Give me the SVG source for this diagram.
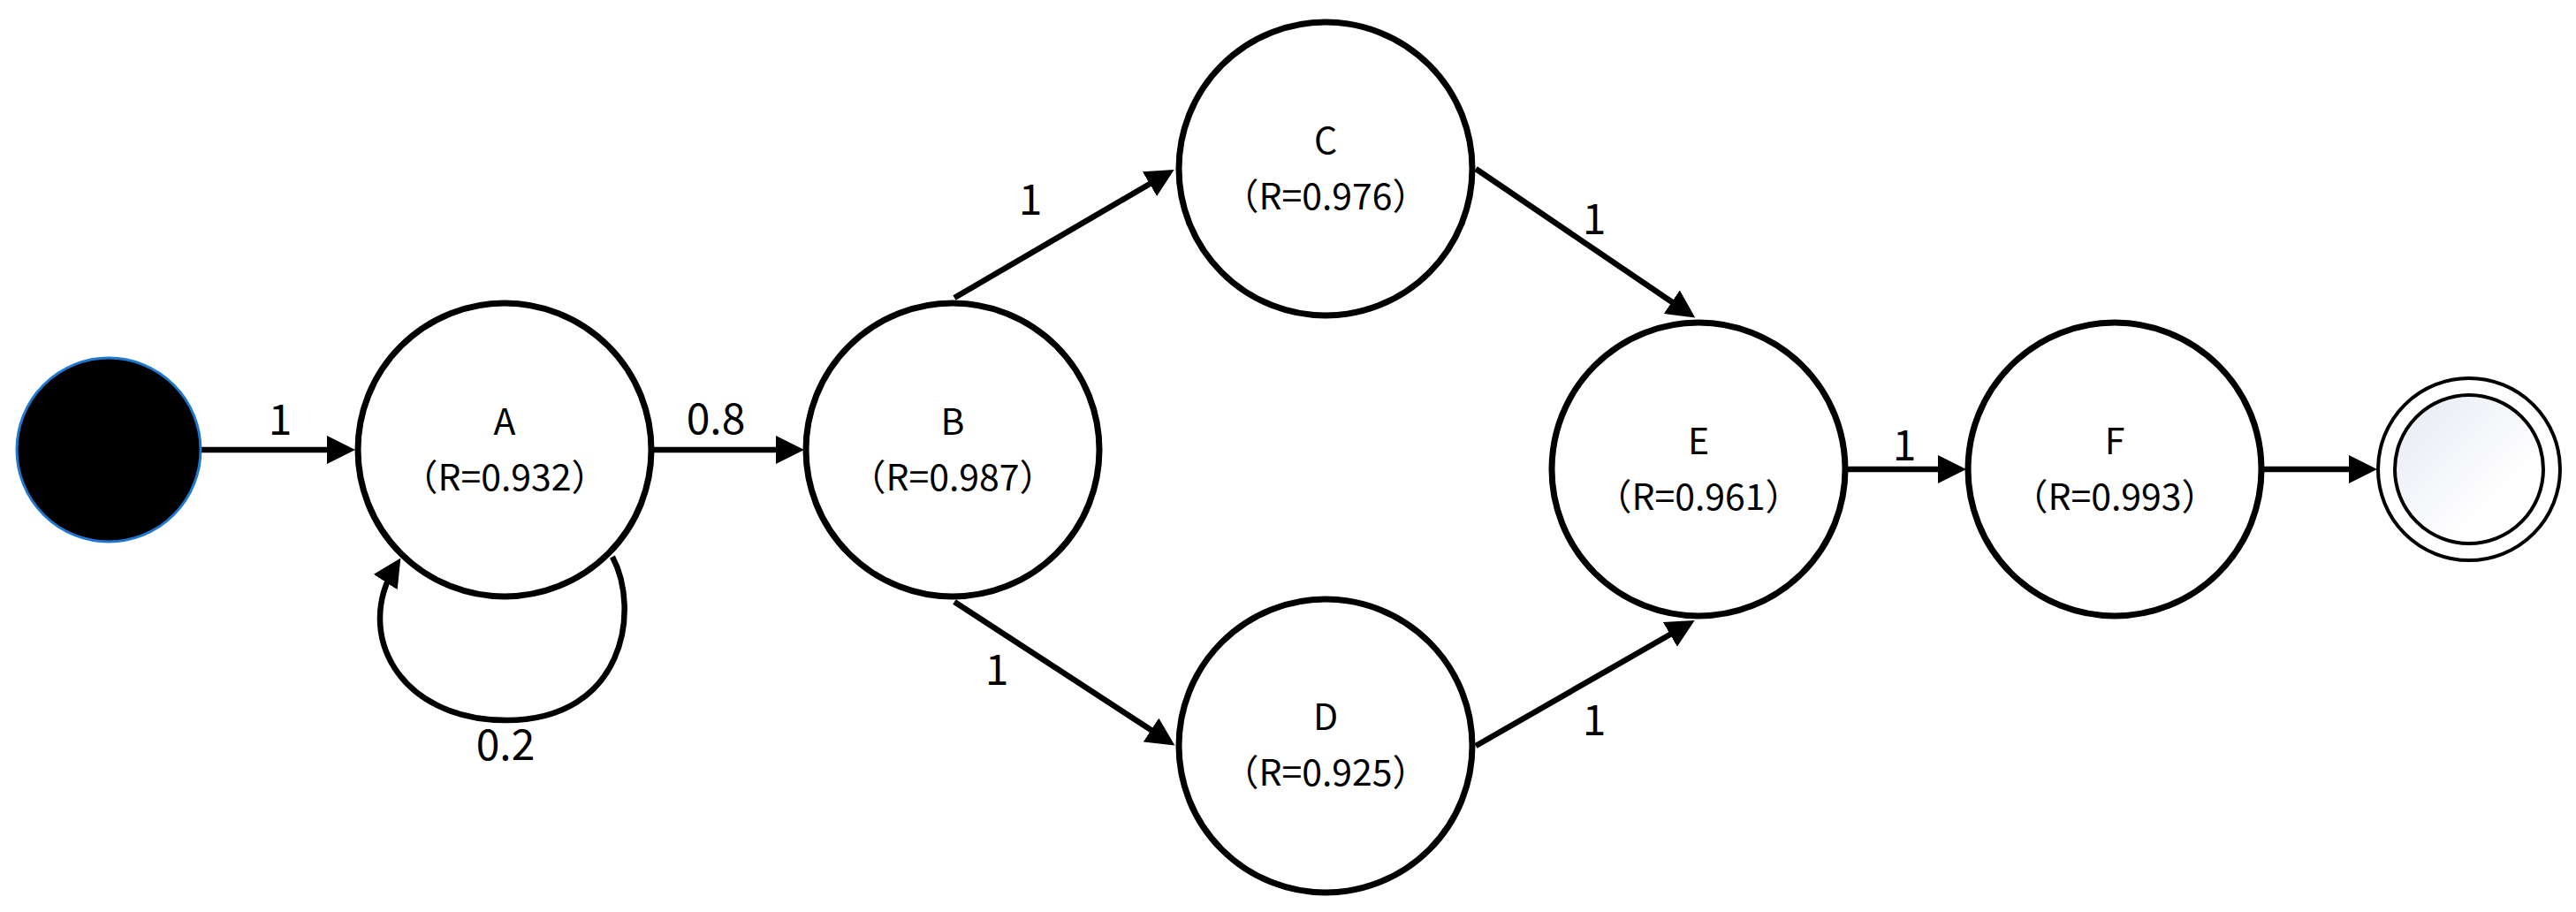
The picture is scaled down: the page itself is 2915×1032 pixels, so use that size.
<svg xmlns="http://www.w3.org/2000/svg" width="2915" height="1032" viewBox="0 0 2915 1032">
<defs>
<marker id="arr" markerUnits="userSpaceOnUse" markerWidth="34" markerHeight="34" refX="22" refY="16" orient="auto">
<path d="M0,0 L32,16 L0,32 z" fill="#000"/>
</marker>
<linearGradient id="endg" x1="0" y1="0" x2="1" y2="1">
<stop offset="0" stop-color="#e6e9f3"/>
<stop offset="0.7" stop-color="#ffffff"/>
</linearGradient>
<style>
.node{fill:#fff;stroke:#000;stroke-width:7}
.edge{fill:none;stroke:#000;stroke-width:6.5;marker-end:url(#arr)}
.nt{font-family:"Noto Sans CJK SC","Noto Sans",sans-serif;font-size:41px;fill:#000;text-anchor:middle}
.el{font-family:"Noto Sans CJK SC","Noto Sans",sans-serif;font-size:48px;fill:#000;text-anchor:middle}
</style>
</defs>
<rect width="2915" height="1032" fill="#fff"/>
<g id="connectors">
<path class="edge" d="M228 509 L392 509"/>
<path class="edge" d="M740 509 L900 509"/>
<path class="edge" d="M1080 337 L1320 197"/>
<path class="edge" d="M1080 681 L1321 838"/>
<path class="edge" d="M1670 191 L1910 354"/>
<path class="edge" d="M1670 844 L1909 707"/>
<path class="edge" d="M2090 531 L2215 531"/>
<path class="edge" d="M2561 531 L2680 531"/>
<path class="edge" d="M693 630 C725 690, 707 815, 573 815 C450 815, 400 715, 448 640"/>
<text class="el" x="317" y="492">1</text>
<text class="el" x="810" y="491">0.8</text>
<text class="el" x="572" y="860">0.2</text>
<text class="el" x="1166" y="243">1</text>
<text class="el" x="1128" y="775">1</text>
<text class="el" x="1804" y="265">1</text>
<text class="el" x="1804" y="832">1</text>
<text class="el" x="2155" y="521">1</text>
</g>
<g id="start"><circle cx="123" cy="509" r="104" fill="#000" stroke="#1f78d0" stroke-width="3"/></g>
<g id="A"><circle class="node" cx="571" cy="509" r="166"/><text class="nt" x="571" y="492">A</text><text class="nt" x="571" y="555">（R=0.932）</text></g>
<g id="B"><circle class="node" cx="1078" cy="509" r="166"/><text class="nt" x="1078" y="492">B</text><text class="nt" x="1078" y="555">（R=0.987）</text></g>
<g id="C"><circle class="node" cx="1500" cy="191" r="166"/><text class="nt" x="1500" y="174">C</text><text class="nt" x="1500" y="237">（R=0.976）</text></g>
<g id="D"><circle class="node" cx="1500" cy="844" r="166"/><text class="nt" x="1500" y="826">D</text><text class="nt" x="1500" y="889">（R=0.925）</text></g>
<g id="E"><circle class="node" cx="1922" cy="531" r="166"/><text class="nt" x="1922" y="514">E</text><text class="nt" x="1922" y="577">（R=0.961）</text></g>
<g id="F"><circle class="node" cx="2393" cy="531" r="166"/><text class="nt" x="2393" y="514">F</text><text class="nt" x="2393" y="577">（R=0.993）</text></g>
<g id="end"><circle cx="2794" cy="531" r="103" fill="#fff" stroke="#000" stroke-width="4"/><circle cx="2794" cy="531" r="84" fill="url(#endg)" stroke="#000" stroke-width="4"/></g>
</svg>
